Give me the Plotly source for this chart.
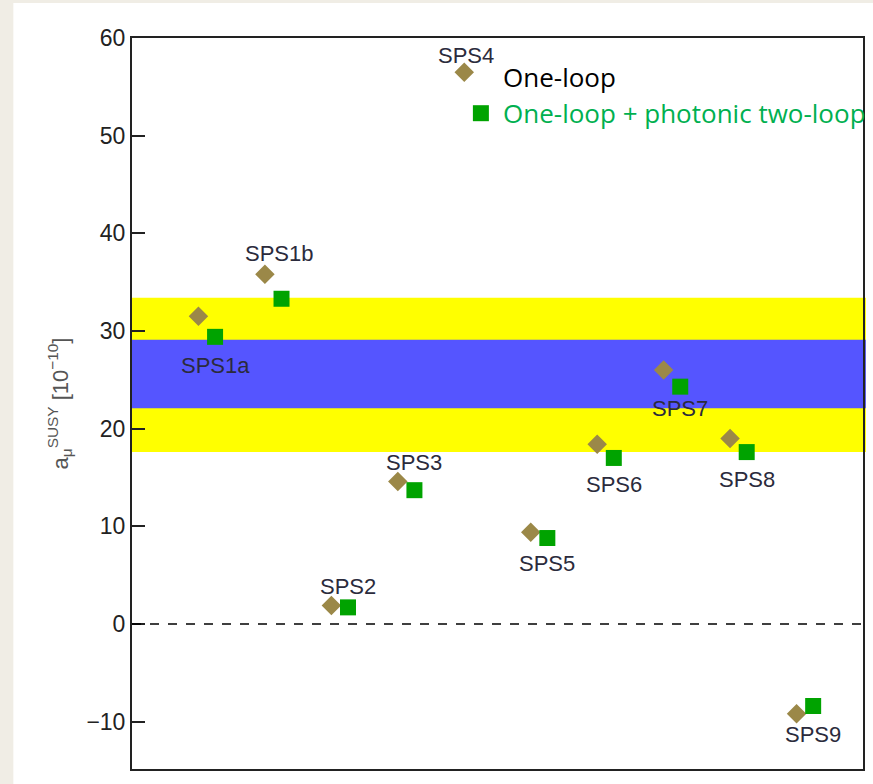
import plotly.graph_objects as go

# ---- data ----
points = ["SPS1a", "SPS1b", "SPS2", "SPS3", "SPS4", "SPS5", "SPS6", "SPS7", "SPS8", "SPS9"]
index = [1, 2, 3, 4, 5, 6, 7, 8, 9, 10]
one_loop = [31.5, 35.8, 1.9, 14.6, 56.5, 9.4, 18.4, 26.0, 19.0, -9.2]
two_loop = [29.4, 33.3, 1.7, 13.7, 52.3, 8.8, 17.0, 24.3, 17.6, -8.4]
band_1sigma = [22.1, 29.1]
band_2sigma = [17.6, 33.4]
y_ticks = [-10, 0, 10, 20, 30, 40, 50, 60]
legend_labels = ["One-loop", "One-loop + photonic two-loop"]

# ---- layout helpers (styling, not data) ----
offset = 0.25
label_yshift = [-29, 45, 21, 28, 58, -25, -27, -22, -27, -28]
label_xshift = [0, -2, 0, 0, -15, 0, 0, 0, 0, 0]

diamond_color = "#9b8848"
square_color = "#00a300"
font_main = "Arial, Liberation Sans, sans-serif"

fig = go.Figure()

fig.add_trace(go.Scatter(
    x=index, y=one_loop, mode="markers", name=legend_labels[0],
    marker=dict(symbol="diamond", size=15, color=diamond_color, line=dict(width=0)),
    showlegend=False, cliponaxis=False,
))
fig.add_trace(go.Scatter(
    x=[i + offset for i in index], y=two_loop, mode="markers", name=legend_labels[1],
    marker=dict(symbol="square", size=16, color=square_color, line=dict(width=0)),
    showlegend=False, cliponaxis=False,
))

shapes = []
# white panel on beige page
shapes.append(dict(type="rect", xref="paper", yref="paper",
                   x0=-0.1623, x1=1.02, y0=-0.03, y1=1.0479,
                   fillcolor="white", line=dict(width=0), layer="below"))
# bands
shapes.append(dict(type="rect", xref="paper", yref="y", x0=0, x1=1.004,
                   y0=band_2sigma[0], y1=band_2sigma[1],
                   fillcolor="#ffff00", line=dict(width=0), layer="below"))
shapes.append(dict(type="rect", xref="paper", yref="y", x0=0, x1=1.004,
                   y0=band_1sigma[0], y1=band_1sigma[1],
                   fillcolor="#5555ff", line=dict(width=0), layer="below"))
# zero line
shapes.append(dict(type="line", xref="paper", yref="y", x0=0, x1=1, y0=0, y1=0,
                   line=dict(color="black", width=1.5, dash="dash"), layer="above"))

annotations = []
for i, name in enumerate(points):
    annotations.append(dict(
        x=index[i] + offset, y=two_loop[i], xref="x", yref="y",
        text=name, showarrow=False, xanchor="center", yanchor="middle",
        xshift=label_xshift[i], yshift=label_yshift[i],
        font=dict(family=font_main, size=22, color="#2b2b3c"),
    ))

annotations.append(dict(x=5.55, y=56.0, xref="x", yref="y", text=legend_labels[0],
                        showarrow=False, xanchor="left", yanchor="middle",
                        font=dict(family="Open Sans, sans-serif", size=26, color="black")))
annotations.append(dict(x=5.55, y=52.3, xref="x", yref="y", text=legend_labels[1],
                        showarrow=False, xanchor="left", yanchor="middle",
                        font=dict(family="Open Sans, sans-serif", size=26, color="#00b050")))

fig.update_layout(
    width=873, height=784,
    margin=dict(l=132, r=8, t=38, b=15),
    paper_bgcolor="#f0ede5",
    plot_bgcolor="white",
    shapes=shapes,
    annotations=annotations,
    showlegend=False,
    xaxis=dict(range=[0, 11], showticklabels=False, ticks="", showgrid=False,
               zeroline=False, showline=True, mirror=True, linecolor="#222", linewidth=2),
    yaxis=dict(range=[-14.85, 60], tickvals=y_ticks, ticks="inside", ticklen=13,
               tickwidth=2, tickcolor="#222", showgrid=False, zeroline=False,
               showline=True, mirror=True, linecolor="#222", linewidth=2,
               tickfont=dict(family=font_main, size=23, color="#222"),
               title=dict(text="a<sub>μ</sub><sup>SUSY</sup> [10<sup>−10</sup>]",
                          font=dict(family=font_main, size=22, color="#555"),
                          standoff=12)),
)

fig.write_html("out.html")
